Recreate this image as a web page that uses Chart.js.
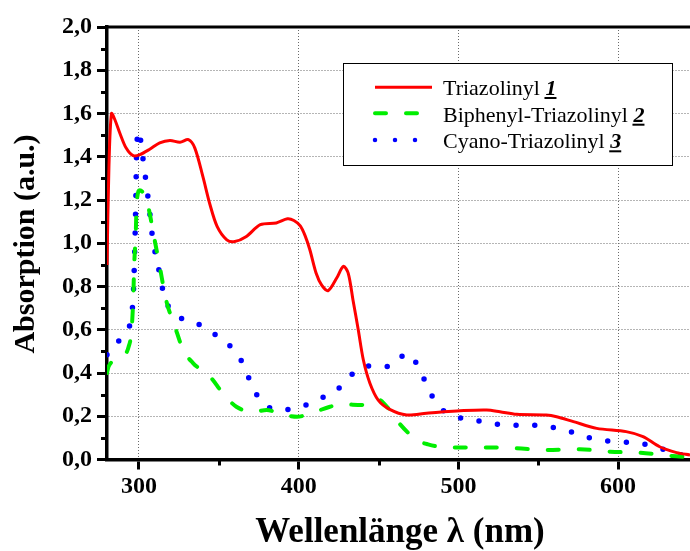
<!DOCTYPE html>
<html lang="de">
<head>
<meta charset="utf-8">
<title>Absorptionsspektren</title>
<script src="https://cdn.jsdelivr.net/npm/chart.js@4/dist/chart.umd.min.js"></script>
<style>
    html, body { margin: 0; padding: 0; background: #fff; }
    canvas { display: block; }
</style>
</head>
<body>
<canvas id="spektrum" width="690" height="551"></canvas>
<script>
// Messdaten: Wellenlänge (nm) und Absorption (a.u.)
const wlTriazolinyl = [280, 281.2, 282.8, 285, 288, 292, 296.4, 300.6, 307, 313, 319.4, 325.7, 331, 335, 340, 344.5, 349, 355, 360, 367, 376, 386, 393, 397, 401, 404, 407, 411, 414.5, 418.5, 423.8, 428, 431, 434, 437.3, 440.5, 444.6, 449.8, 457, 467.6, 480, 490.5, 501, 517.7, 526, 536.5, 555, 561.5, 572, 586.6, 605, 615.6, 626, 636.6, 645];
const absTriazolinyl = [0.90, 1.35, 1.60, 1.57, 1.51, 1.44, 1.405, 1.41, 1.436, 1.464, 1.475, 1.467, 1.479, 1.44, 1.309, 1.178, 1.077, 1.016, 1.008, 1.03, 1.086, 1.094, 1.113, 1.105, 1.08, 1.035, 0.97, 0.86, 0.805, 0.781, 0.839, 0.893, 0.862, 0.738, 0.60, 0.46, 0.353, 0.275, 0.232, 0.206, 0.214, 0.221, 0.226, 0.229, 0.221, 0.209, 0.206, 0.198, 0.175, 0.144, 0.129, 0.106, 0.059, 0.032, 0.021];

const wlBiphenyl = [280, 281, 286, 290, 293.5, 295.4, 296.4, 297, 298, 298.6, 300.5, 303, 305.8, 309, 313, 317, 322.5, 327.7, 334, 344.5, 352.6, 361, 371.6, 380, 389, 399, 409, 419.6, 428, 439.5, 449, 457, 463, 474, 481, 492.7, 499, 517.7, 536.5, 555, 576, 595, 614, 634, 645];
const absBiphenyl = [0.40, 0.43, 0.46, 0.476, 0.52, 0.60, 0.738, 0.893, 1.047, 1.186, 1.245, 1.228, 1.17, 1.047, 0.893, 0.738, 0.615, 0.507, 0.445, 0.383, 0.306, 0.244, 0.221, 0.229, 0.21, 0.198, 0.217, 0.244, 0.255, 0.252, 0.28, 0.229, 0.167, 0.09, 0.07, 0.056, 0.056, 0.056, 0.052, 0.044, 0.047, 0.036, 0.031, 0.016, 0.01];

const wlCyano = [280, 281, 286, 291.2, 295.4, 296.4, 296.9, 297.5, 298, 298.6, 300, 301.7, 303.3, 304.8, 306.3, 307.5, 309, 311.5, 313.6, 316.5, 323, 335, 346.5, 358, 366, 370.5, 377.8, 389, 401.5, 412.5, 424, 434.5, 445.7, 457, 468, 476, 481, 488.3, 500, 511.5, 523, 535, 546.5, 558.4, 570, 581.8, 593.5, 605.4, 616.8, 628.3, 639.8, 645];
const absCyano = [0.484, 0.505, 0.538, 0.584, 0.665, 0.754, 0.846, 1.008, 1.186, 1.444, 1.52, 1.436, 1.348, 1.263, 1.174, 1.09, 1.0, 0.916, 0.831, 0.74, 0.669, 0.634, 0.584, 0.518, 0.43, 0.345, 0.26, 0.229, 0.244, 0.279, 0.322, 0.4, 0.434, 0.43, 0.49, 0.414, 0.328, 0.242, 0.195, 0.18, 0.164, 0.158, 0.158, 0.149, 0.129, 0.101, 0.086, 0.08, 0.07, 0.047, 0.021, 0.012];

const legendNamen = ['Triazolinyl ', 'Biphenyl-Triazolinyl ', 'Cyano-Triazolinyl '];
const legendNummern = ['1', '2', '3'];

const xHaupt = [300, 400, 500, 600];
const yHaupt = [0, 0.2, 0.4, 0.6, 0.8, 1.0, 1.2, 1.4, 1.6, 1.8, 2.0];

const SERIF = '"Liberation Serif", "Times New Roman", serif';

function punkte(wl, abs) {
    return wl.map((w, i) => ({ x: w, y: abs[i] }));
}

function istHauptX(v) {
    return xHaupt.some(h => Math.abs(h - v) < 1e-6);
}

function istHauptY(v) {
    return yHaupt.some(h => Math.abs(h - v) < 1e-6);
}

const linienStile = [
    { farbe: '#ff0000', breite: 3, dash: [], cap: 'butt', legendDash: [], kurve: 'default' },
    { farbe: '#00ee00', breite: 4, dash: [11, 20], cap: 'round', legendDash: [11, 20], kurve: 'monotone' },
    { farbe: '#0000ff', breite: 5.5, dash: [0, 18.7], cap: 'round', legendDash: [0, 20], kurve: 'monotone' }
];

// Kleine Teilstriche, Achsentitel, obere Rahmenlinie und Legende
const zusatzPlugin = {
    id: 'zusatz',
    afterDraw(chart) {
        const ctx = chart.ctx;
        const area = chart.chartArea;
        const xs = chart.scales.x;
        const ys = chart.scales.y;

        ctx.save();
        ctx.strokeStyle = '#000';
        ctx.lineWidth = 3;

        // Nebenteilstriche
        xs.ticks.forEach(t => {
            if (istHauptX(t.value)) return;
            const px = Math.round(xs.getPixelForValue(t.value)) + 0.5;
            ctx.beginPath();
            ctx.moveTo(px, area.bottom);
            ctx.lineTo(px, area.bottom + 6);
            ctx.stroke();
        });
        ys.ticks.forEach(t => {
            if (istHauptY(t.value)) return;
            const py = Math.round(ys.getPixelForValue(t.value)) + 0.5;
            ctx.beginPath();
            ctx.moveTo(area.left, py);
            ctx.lineTo(area.left - 6, py);
            ctx.stroke();
        });

        // obere Rahmenlinie
        ctx.beginPath();
        ctx.moveTo(area.left - 1.5, area.top);
        ctx.lineTo(area.right, area.top);
        ctx.stroke();

        // Achsentitel
        ctx.fillStyle = '#000';
        ctx.font = 'bold 35px ' + SERIF;
        ctx.textAlign = 'center';
        ctx.textBaseline = 'alphabetic';
        ctx.fillText('Wellenlänge λ (nm)', 400, 542);

        ctx.save();
        ctx.translate(34, 244);
        ctx.rotate(-Math.PI / 2);
        ctx.font = 'bold 30px ' + SERIF;
        ctx.fillText('Absorption (a.u.)', 0, 0);
        ctx.restore();

        // Legende
        ctx.fillStyle = '#fff';
        ctx.fillRect(343.5, 63.5, 329, 102);
        ctx.lineWidth = 1;
        ctx.strokeStyle = '#000';
        ctx.strokeRect(343.5, 63.5, 329, 102);

        const zeilen = [87.3, 113.3, 140];
        const basis = [95, 121.7, 148.3];
        legendNamen.forEach((name, i) => {
            const st = linienStile[i];
            ctx.save();
            ctx.strokeStyle = st.farbe;
            ctx.lineWidth = Math.min(st.breite, 4.5);
            ctx.lineCap = st.cap;
            ctx.setLineDash(st.legendDash);
            ctx.beginPath();
            ctx.moveTo(375, zeilen[i]);
            ctx.lineTo(432, zeilen[i]);
            ctx.stroke();
            ctx.restore();

            ctx.fillStyle = '#000';
            ctx.textAlign = 'left';
            ctx.font = '22px ' + SERIF;
            ctx.fillText(name, 443, basis[i]);
            const x0 = 443 + ctx.measureText(name).width;
            ctx.font = 'italic bold 22px ' + SERIF;
            ctx.fillText(legendNummern[i], x0, basis[i]);
            const w = ctx.measureText(legendNummern[i]).width;
            ctx.fillRect(x0 - 1, basis[i] + 2, w + 1, 2);
        });

        ctx.restore();
    }
};

const datensaetze = [
    { label: 'Triazolinyl 1', data: punkte(wlTriazolinyl, absTriazolinyl) },
    { label: 'Biphenyl-Triazolinyl 2', data: punkte(wlBiphenyl, absBiphenyl) },
    { label: 'Cyano-Triazolinyl 3', data: punkte(wlCyano, absCyano) }
].map((d, i) => ({
    ...d,
    borderColor: linienStile[i].farbe,
    borderWidth: linienStile[i].breite,
    borderDash: linienStile[i].dash,
    borderCapStyle: linienStile[i].cap,
    borderJoinStyle: 'round',
    pointRadius: 0,
    cubicInterpolationMode: linienStile[i].kurve,
    tension: 0.3,
    fill: false
}));

new Chart(document.getElementById('spektrum'), {
    type: 'line',
    data: { datasets: datensaetze },
    options: {
        responsive: false,
        devicePixelRatio: 1,
        animation: false,
        layout: { padding: { top: 27, left: 0, right: 0, bottom: 0 } },
        plugins: {
            legend: { display: false },
            tooltip: { enabled: false }
        },
        scales: {
            x: {
                type: 'linear',
                min: 280,
                max: 645,
                afterFit(scale) { scale.height = 91.5; },
                ticks: {
                    stepSize: 50,
                    includeBounds: false,
                    autoSkip: false,
                    maxRotation: 0,
                    padding: 3,
                    color: '#000',
                    font: { family: SERIF, size: 24, weight: 'bold' },
                    callback: v => istHauptX(v) ? String(v) : ''
                },
                grid: {
                    color: c => (c.tick && istHauptX(c.tick.value)) ? '#6a6a6a' : 'rgba(0,0,0,0)',
                    lineWidth: 1,
                    tickLength: 10,
                    tickWidth: 3,
                    tickColor: c => (c.tick && istHauptX(c.tick.value)) ? '#000' : 'rgba(0,0,0,0)'
                },
                border: { display: true, color: '#000', width: 3.5, dash: [1, 2] }
            },
            y: {
                min: 0,
                max: 2,
                afterFit(scale) { scale.width = 107; },
                ticks: {
                    stepSize: 0.1,
                    autoSkip: false,
                    padding: 5,
                    color: '#000',
                    font: { family: SERIF, size: 24, weight: 'bold' },
                    callback: v => istHauptY(v) ? v.toFixed(1).replace('.', ',') : ''
                },
                grid: {
                    color: c => (c.tick && istHauptY(c.tick.value) && c.tick.value > 0 && c.tick.value < 2) ? '#6a6a6a' : 'rgba(0,0,0,0)',
                    lineWidth: 1,
                    tickLength: 10,
                    tickWidth: 3,
                    tickColor: c => (c.tick && istHauptY(c.tick.value)) ? '#000' : 'rgba(0,0,0,0)'
                },
                border: { display: true, color: '#000', width: 3.5, dash: [1, 2] }
            }
        }
    },
    plugins: [zusatzPlugin]
});
</script>
</body>
</html>
